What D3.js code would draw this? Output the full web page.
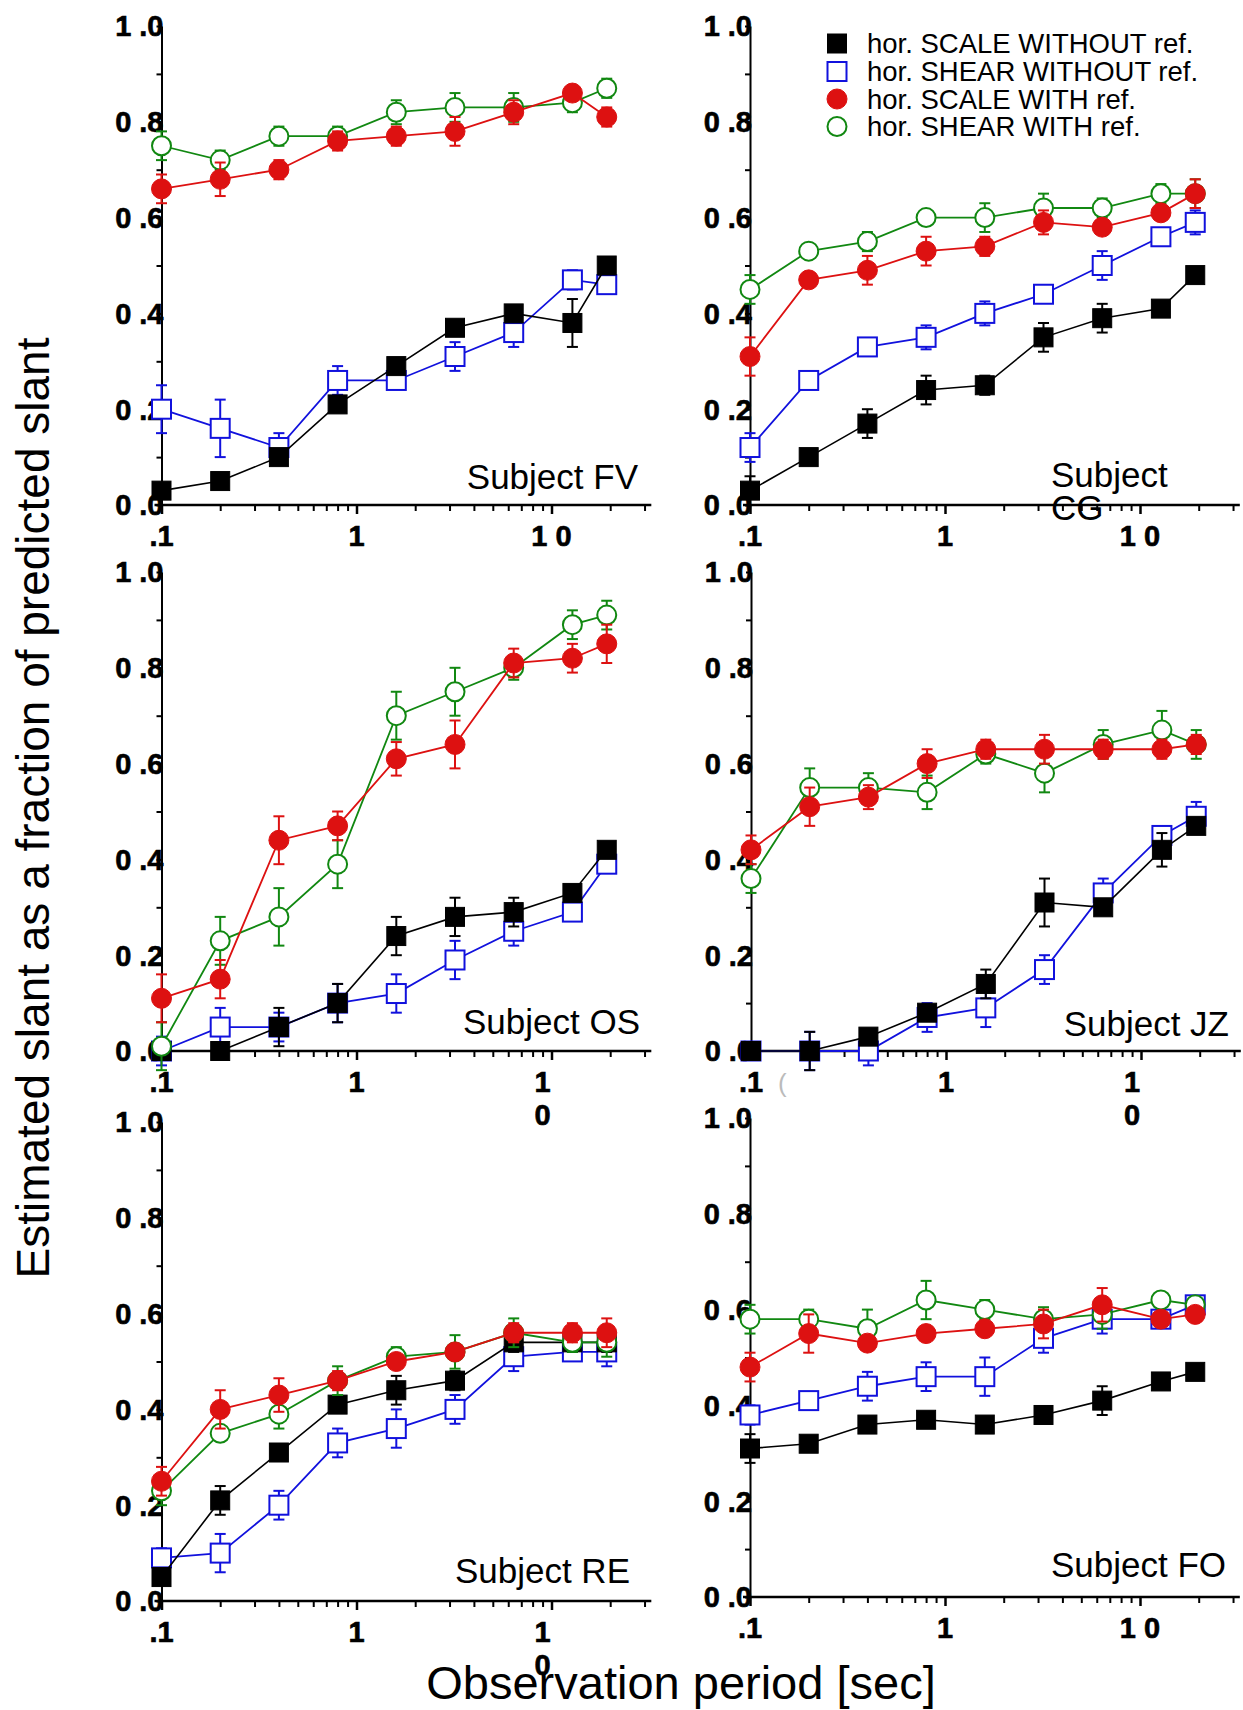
<!DOCTYPE html>
<html>
<head>
<meta charset="utf-8">
<script src="https://cdn.jsdelivr.net/npm/d3@7"></script>
<style>
  body { margin: 0; background: #fff; }
  text { font-family: "Liberation Sans", Arial, Helvetica, sans-serif; }
</style>
</head>
<body>
<div id="plot"></div>
<script>
// observation periods (sec)
var periods = [0.1, 0.2, 0.4, 0.8, 1.6, 3.2, 6.4, 12.8, 19.2]

var yTicks = [0, 0.2, 0.4, 0.6, 0.8, 1.0]
var yTickLabels = ["0 .0", "0 .2", "0 .4", "0 .6", "0 .8", "1 .0"]
var xMajor = [0.1, 1, 10]
var xMajorLabels = [".1", "1", "1 0"]
var xMinor = [0.2, 0.3, 0.4, 0.5, 0.6, 0.7, 0.8, 0.9, 2, 3, 4, 5, 6, 7, 8, 9, 20, 30]

var seriesNames = ["hor. SCALE WITHOUT ref.", "hor. SHEAR WITHOUT ref.", "hor. SCALE WITH ref.", "hor. SHEAR WITH ref."]

// Subject FV
var fvScaleWo     = [0.03, 0.05, 0.10, 0.21, 0.29, 0.37, 0.40, 0.38, 0.50]
var fvScaleWoErr  = [0.01, 0.01, 0.01, 0.01, 0.01, 0.01, 0.01, 0.05, 0.01]
var fvShearWo     = [0.20, 0.16, 0.12, 0.26, 0.26, 0.31, 0.36, 0.47, 0.46]
var fvShearWoErr  = [0.05, 0.06, 0.03, 0.03, 0.01, 0.03, 0.03, 0.02, 0.01]
var fvScaleW      = [0.66, 0.68, 0.70, 0.76, 0.77, 0.78, 0.82, 0.86, 0.81]
var fvScaleWErr   = [0.03, 0.035, 0.02, 0.02, 0.02, 0.03, 0.025, 0.015, 0.02]
var fvShearW      = [0.75, 0.72, 0.77, 0.77, 0.82, 0.83, 0.83, 0.84, 0.87]
var fvShearWErr   = [0.03, 0.02, 0.02, 0.02, 0.025, 0.03, 0.03, 0.02, 0.02]

// Subject CG
var cgScaleWo     = [0.03, 0.10, 0.17, 0.24, 0.25, 0.35, 0.39, 0.41, 0.48]
var cgScaleWoErr  = [0.03, 0.01, 0.03, 0.03, 0.02, 0.03, 0.03, 0.01, 0.01]
var cgShearWo     = [0.12, 0.26, 0.33, 0.35, 0.40, 0.44, 0.50, 0.56, 0.59]
var cgShearWoErr  = [0.03, 0.01, 0.01, 0.025, 0.025, 0.01, 0.03, 0.01, 0.025]
var cgScaleW      = [0.31, 0.47, 0.49, 0.53, 0.54, 0.59, 0.58, 0.61, 0.65]
var cgScaleWErr   = [0.04, 0.015, 0.03, 0.03, 0.02, 0.025, 0.01, 0.01, 0.03]
var cgShearW      = [0.45, 0.53, 0.55, 0.60, 0.60, 0.62, 0.62, 0.65, 0.65]
var cgShearWErr   = [0.03, 0.015, 0.02, 0.01, 0.03, 0.03, 0.02, 0.02, 0.03]

// Subject OS
var osScaleWo     = [0.00, 0.00, 0.05, 0.10, 0.24, 0.28, 0.29, 0.33, 0.42]
var osScaleWoErr  = [0.01, 0.01, 0.04, 0.04, 0.04, 0.04, 0.03, 0.01, 0.01]
var osShearWo     = [0.00, 0.05, 0.05, 0.10, 0.12, 0.19, 0.25, 0.29, 0.39]
var osShearWoErr  = [0.03, 0.04, 0.03, 0.04, 0.04, 0.04, 0.03, 0.01, 0.01]
var osScaleW      = [0.11, 0.15, 0.44, 0.47, 0.61, 0.64, 0.81, 0.82, 0.85]
var osScaleWErr   = [0.05, 0.04, 0.05, 0.03, 0.035, 0.05, 0.03, 0.03, 0.04]
var osShearW      = [0.01, 0.23, 0.28, 0.39, 0.70, 0.75, 0.80, 0.89, 0.91]
var osShearWErr   = [0.05, 0.05, 0.06, 0.05, 0.05, 0.05, 0.025, 0.03, 0.03]

// Subject JZ
var jzScaleWo     = [0.00, 0.00, 0.03, 0.08, 0.14, 0.31, 0.30, 0.42, 0.47]
var jzScaleWoErr  = [0.01, 0.04, 0.01, 0.01, 0.03, 0.05, 0.01, 0.035, 0.01]
var jzShearWo     = [0.00, 0.00, 0.00, 0.07, 0.09, 0.17, 0.33, 0.45, 0.49]
var jzShearWoErr  = [0.01, 0.04, 0.03, 0.03, 0.04, 0.03, 0.03, 0.01, 0.03]
var jzScaleW      = [0.42, 0.51, 0.53, 0.60, 0.63, 0.63, 0.63, 0.63, 0.64]
var jzScaleWErr   = [0.03, 0.04, 0.025, 0.03, 0.02, 0.03, 0.02, 0.02, 0.02]
var jzShearW      = [0.36, 0.55, 0.55, 0.54, 0.62, 0.58, 0.64, 0.67, 0.64]
var jzShearWErr   = [0.03, 0.04, 0.03, 0.035, 0.02, 0.04, 0.03, 0.04, 0.03]

// Subject RE
var reScaleWo     = [0.05, 0.21, 0.31, 0.41, 0.44, 0.46, 0.54, 0.54, 0.54]
var reScaleWoErr  = [0.01, 0.03, 0.01, 0.01, 0.03, 0.02, 0.02, 0.02, 0.02]
var reShearWo     = [0.09, 0.10, 0.20, 0.33, 0.36, 0.40, 0.51, 0.52, 0.52]
var reShearWoErr  = [0.02, 0.04, 0.03, 0.03, 0.04, 0.03, 0.03, 0.01, 0.03]
var reScaleW      = [0.25, 0.40, 0.43, 0.46, 0.50, 0.52, 0.56, 0.56, 0.56]
var reScaleWErr   = [0.03, 0.04, 0.035, 0.02, 0.01, 0.01, 0.02, 0.02, 0.03]
var reShearW      = [0.23, 0.35, 0.39, 0.46, 0.51, 0.52, 0.56, 0.54, 0.54]
var reShearWErr   = [0.03, 0.015, 0.03, 0.03, 0.02, 0.035, 0.03, 0.02, 0.03]

// Subject FO
var foScaleWo     = [0.31, 0.32, 0.36, 0.37, 0.36, 0.38, 0.41, 0.45, 0.47]
var foScaleWoErr  = [0.03, 0.01, 0.01, 0.01, 0.01, 0.01, 0.03, 0.01, 0.01]
var foShearWo     = [0.38, 0.41, 0.44, 0.46, 0.46, 0.54, 0.58, 0.58, 0.61]
var foShearWoErr  = [0.02, 0.01, 0.03, 0.03, 0.04, 0.03, 0.03, 0.01, 0.01]
var foScaleW      = [0.48, 0.55, 0.53, 0.55, 0.56, 0.57, 0.61, 0.58, 0.59]
var foScaleWErr   = [0.03, 0.04, 0.01, 0.01, 0.01, 0.03, 0.035, 0.01, 0.01]
var foShearW      = [0.58, 0.58, 0.56, 0.62, 0.60, 0.58, 0.59, 0.62, 0.61]
var foShearWErr   = [0.03, 0.02, 0.04, 0.04, 0.02, 0.025, 0.03, 0.01, 0.01]

var width = 1243, height = 1710
var decade = 195, plotH = 479

// marker styles, in legend order
var styles = [
  { color: "#000000", shape: "square", open: false },
  { color: "#1111dd", shape: "square", open: true },
  { color: "#dd1111", shape: "circle", open: false },
  { color: "#118811", shape: "circle", open: true }
]
var drawOrder = [1, 0, 3, 2]

var panels = [
  { x0: 161.5, y0: 505, label: ["Subject FV"], lx: 638, ly: 489, anchor: "end", wrapTen: false,
    series: [[fvScaleWo, fvScaleWoErr], [fvShearWo, fvShearWoErr], [fvScaleW, fvScaleWErr], [fvShearW, fvShearWErr]] },
  { x0: 750, y0: 505, label: ["Subject", "CG"], lx: 1051, ly: 487, anchor: "start", wrapTen: false,
    series: [[cgScaleWo, cgScaleWoErr], [cgShearWo, cgShearWoErr], [cgScaleW, cgScaleWErr], [cgShearW, cgShearWErr]] },
  { x0: 161.5, y0: 1051, label: ["Subject OS"], lx: 640, ly: 1034, anchor: "end", wrapTen: true,
    series: [[osScaleWo, osScaleWoErr], [osShearWo, osShearWoErr], [osScaleW, osScaleWErr], [osShearW, osShearWErr]] },
  { x0: 751, y0: 1051, label: ["Subject JZ"], lx: 1229, ly: 1036, anchor: "end", wrapTen: true,
    series: [[jzScaleWo, jzScaleWoErr], [jzShearWo, jzShearWoErr], [jzScaleW, jzScaleWErr], [jzShearW, jzShearWErr]] },
  { x0: 161.5, y0: 1601, label: ["Subject RE"], lx: 630, ly: 1583, anchor: "end", wrapTen: true,
    series: [[reScaleWo, reScaleWoErr], [reShearWo, reShearWoErr], [reScaleW, reScaleWErr], [reShearW, reShearWErr]] },
  { x0: 750, y0: 1597, label: ["Subject FO"], lx: 1226, ly: 1577, anchor: "end", wrapTen: false,
    series: [[foScaleWo, foScaleWoErr], [foShearWo, foShearWoErr], [foScaleW, foScaleWErr], [foShearW, foShearWErr]] }
]

var svg = d3.select("#plot")
  .append("svg")
  .attr("width", width)
  .attr("height", height)

svg.append("rect").attr("width", width).attr("height", height).attr("fill", "#fff")

function marker(g, st, cx, cy) {
  if (st.shape == "square") {
    g.append("rect")
      .attr("x", cx - 9.5).attr("y", cy - 9.5)
      .attr("width", 19).attr("height", 19)
      .attr("fill", st.open ? "#fff" : st.color)
      .attr("stroke", st.color)
      .attr("stroke-width", st.open ? 2 : 1)
  } else {
    g.append("circle")
      .attr("cx", cx).attr("cy", cy)
      .attr("r", st.open ? 9.5 : 10)
      .attr("fill", st.open ? "#fff" : st.color)
      .attr("stroke", st.color)
      .attr("stroke-width", st.open ? 2 : 1)
  }
}

function boldLabel(sel) {
  sel.attr("font-size", 29)
    .attr("font-weight", "bold")
    .attr("stroke", "#000")
    .attr("stroke-width", 0.6)
}

panels.forEach(function (p) {
  var x = d3.scaleLog()
    .domain([0.1, 32.5])
    .range([p.x0, p.x0 + decade * Math.log10(325)])
  var y = d3.scaleLinear()
    .domain([0, 1])
    .range([p.y0, p.y0 - plotH])

  var g = svg.append("g")

  // y axis, ticks every 0.1
  var yAxis = g.append("g")
    .attr("transform", "translate(" + p.x0 + ",0)")
    .call(d3.axisLeft(y).tickValues(d3.range(0, 1.05, 0.1)).tickSize(5).tickSizeOuter(0).tickFormat(""))
  yAxis.select(".domain").attr("stroke-width", 2)
  yAxis.selectAll(".tick line").attr("stroke-width", 2)

  // x axis: minor then major ticks
  var xMin = g.append("g")
    .attr("transform", "translate(0," + p.y0 + ")")
    .call(d3.axisBottom(x).tickValues(xMinor).tickSize(6).tickSizeOuter(0).tickFormat(""))
  xMin.select(".domain").remove()
  xMin.selectAll(".tick line").attr("stroke-width", 2)
  var xMaj = g.append("g")
    .attr("transform", "translate(0," + p.y0 + ")")
    .call(d3.axisBottom(x).tickValues(xMajor).tickSize(9).tickSizeOuter(0).tickFormat(""))
  xMaj.select(".domain").remove()
  xMaj.selectAll(".tick line").attr("stroke-width", 2.5)
  g.append("line")
    .attr("x1", x.range()[0] - 7).attr("x2", x.range()[1])
    .attr("y1", p.y0).attr("y2", p.y0)
    .attr("stroke", "#000").attr("stroke-width", 2.5)

  // y tick labels
  g.selectAll(".ylab")
    .data(yTicks)
    .enter()
    .append("text")
    .attr("x", p.x0 + 2)
    .attr("y", d => y(d))
    .attr("dy", "0.36em")
    .attr("text-anchor", "end")
    .call(boldLabel)
    .text((d, i) => yTickLabels[i])

  // x tick labels
  xMajor.forEach(function (v, i) {
    if (p.wrapTen && v == 10) {
      g.append("text").attr("x", x(v) - 9).attr("y", p.y0 + 41)
        .attr("text-anchor", "middle").call(boldLabel).text("1")
      g.append("text").attr("x", x(v) - 9).attr("y", p.y0 + 74)
        .attr("text-anchor", "middle").call(boldLabel).text("0")
    } else {
      g.append("text").attr("x", x(v)).attr("y", p.y0 + 41)
        .attr("text-anchor", "middle").call(boldLabel).text(xMajorLabels[i])
    }
  })

  // subject label
  p.label.forEach(function (s, i) {
    g.append("text")
      .attr("x", p.lx).attr("y", p.ly + i * 33)
      .attr("text-anchor", p.anchor)
      .attr("font-size", 35)
      .text(s)
  })

  var line = d3.line()
    .x((d, i) => x(periods[i]))
    .y(d => y(d))

  drawOrder.forEach(function (k) {
    var st = styles[k]
    var vals = p.series[k][0], errs = p.series[k][1]
    var sg = g.append("g")

    sg.append("path")
      .datum(vals)
      .attr("fill", "none")
      .attr("stroke", st.color)
      .attr("stroke-width", k == 0 ? 1.6 : 1.8)
      .attr("d", line)

    vals.forEach(function (v, i) {
      var cx = x(periods[i])
      var top = y(v + errs[i]), bot = y(v - errs[i])
      sg.append("line").attr("x1", cx).attr("x2", cx).attr("y1", top).attr("y2", bot)
        .attr("stroke", st.color).attr("stroke-width", 2)
      sg.append("line").attr("x1", cx - 5.5).attr("x2", cx + 5.5).attr("y1", top).attr("y2", top)
        .attr("stroke", st.color).attr("stroke-width", 2)
      sg.append("line").attr("x1", cx - 5.5).attr("x2", cx + 5.5).attr("y1", bot).attr("y2", bot)
        .attr("stroke", st.color).attr("stroke-width", 2)
    })

    vals.forEach(function (v, i) {
      marker(sg, st, x(periods[i]), y(v))
    })
  })
})

// legend in the CG panel
var legendY = [43.5, 71.5, 99, 126.5]
var leg = svg.append("g")
seriesNames.forEach(function (name, i) {
  marker(leg, styles[i], 837, legendY[i])
  leg.append("text")
    .attr("x", 867).attr("y", legendY[i])
    .attr("dy", "0.36em")
    .attr("font-size", 27.5)
    .text(name)
})

// stray mark next to the JZ ".1" label
svg.append("text")
  .attr("x", 778).attr("y", 1092)
  .attr("font-size", 26)
  .attr("fill", "#bbb")
  .text("(")

// axis titles
svg.append("text")
  .attr("transform", "translate(49,808) rotate(-90)")
  .attr("text-anchor", "middle")
  .attr("font-size", 46)
  .text("Estimated slant as a fraction of predicted slant")

svg.append("text")
  .attr("x", 681).attr("y", 1699)
  .attr("text-anchor", "middle")
  .attr("font-size", 47)
  .text("Observation period [sec]")
</script>
</body>
</html>
